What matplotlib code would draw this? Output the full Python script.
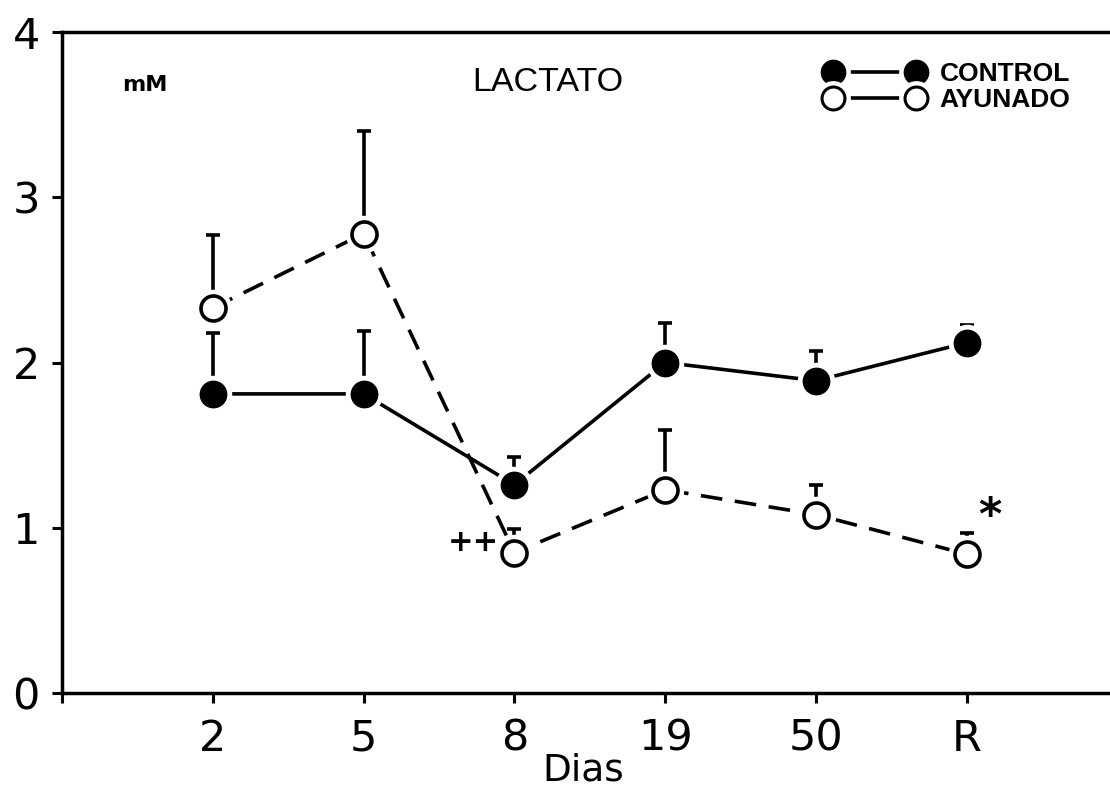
import matplotlib
matplotlib.use("Agg")
import matplotlib.pyplot as plt
from matplotlib.lines import Line2D
from matplotlib.legend_handler import HandlerTuple

# lactato (mM) por dia
dias = ["2", "5", "8", "19", "50", "R"]
control = [1.81, 1.81, 1.26, 2.00, 1.89, 2.12]
control_err = [0.37, 0.38, 0.17, 0.24, 0.18, 0.11]
ayunado = [2.33, 2.78, 0.85, 1.23, 1.08, 0.84]
ayunado_err = [0.44, 0.62, 0.14, 0.36, 0.18, 0.13]

x = list(range(len(dias)))

plt.rcParams['font.family'] = ['DejaVu Sans']
arial = ['Liberation Sans', 'DejaVu Sans']

fig = plt.figure(figsize=(11.10, 7.89), dpi=100)
ax = fig.add_axes([0.0559, 0.1217, 0.9441, 0.8377])

lw = 2.6
ms = 19

# control: linea continua, circulo relleno
ax.errorbar(x, control, yerr=[[0] * len(x), control_err], fmt='none',
            ecolor='black', elinewidth=lw, capsize=5, capthick=lw, zorder=2)
ax.plot(x, control, '-', color='black', lw=lw, zorder=2)

# ayunado: linea discontinua, circulo abierto
ax.errorbar(x, ayunado, yerr=[[0] * len(x), ayunado_err], fmt='none',
            ecolor='black', elinewidth=lw, capsize=5, capthick=lw, zorder=2)
ax.plot(x, ayunado, '-', color='black', lw=lw, dashes=(6, 3.5), zorder=2)

# halo blanco para separar lineas de los marcadores
ax.plot(x, control, 'o', ms=ms + 7, color='white', ls='none', zorder=3)
ax.plot(x, ayunado, 'o', ms=ms + 7, color='white', ls='none', zorder=3)

ax.plot(x, control, 'o', ms=ms, mfc='black', mec='black', ls='none', zorder=4)
ax.plot(x, ayunado, 'o', ms=ms - 1, mfc='white', mec='black', mew=lw,
        ls='none', zorder=4)

ax.set_xlim(-1, 5.95)
ax.set_ylim(0, 4)
ax.set_xticks([-1] + x)
ax.set_xticklabels([""] + dias)
ax.set_yticks([0, 1, 2, 3, 4])
ax.tick_params(axis='both', direction='out', length=7, width=2.2,
               labelsize=31, pad=9)
ax.tick_params(axis='x', pad=11)

for s in ['left', 'bottom', 'top']:
    ax.spines[s].set_linewidth(2.5)
ax.spines['right'].set_visible(False)

ax.text(0.057, 0.92, "mM", transform=ax.transAxes, fontsize=16,
        fontweight='bold', va='center', ha='left')
ax.text(0.464, 0.923, "LACTATO", transform=ax.transAxes, fontsize=24.5,
        family=arial, va='center', ha='center')
ax.text(1.9, 0.91, "++", fontsize=22, fontweight='bold', ha='right',
        va='center')
ax.text(5.15, 1.07, "*", fontsize=32, fontweight='bold', ha='center',
        va='center')

fig.text(0.525, 0.023, "Dias", fontsize=27, ha='center', va='center')

# leyenda: marcador - linea - marcador, con hueco blanco
def entrada(fill):
    linea = Line2D([], [], color='black', lw=lw)
    halo = Line2D([], [], ls='none', marker='o', ms=24, color='white')
    if fill:
        marca = Line2D([], [], ls='none', marker='o', ms=17.5, mfc='black',
                       mec='black')
    else:
        marca = Line2D([], [], ls='none', marker='o', ms=16.5, mfc='white',
                       mec='black', mew=2.2)
    return (linea, halo, marca)

ax.legend([entrada(True), entrada(False)], ["CONTROL", "AYUNADO"],
          handler_map={tuple: HandlerTuple(ndivide=1, pad=0)},
          loc='upper left', bbox_to_anchor=(0.728, 0.955), frameon=False,
          numpoints=2, handlelength=3.74, handletextpad=0.61,
          labelspacing=0.08, borderpad=0, borderaxespad=0,
          prop={'family': arial, 'weight': 'bold', 'size': 19})

fig.savefig("out.png", dpi=100)
